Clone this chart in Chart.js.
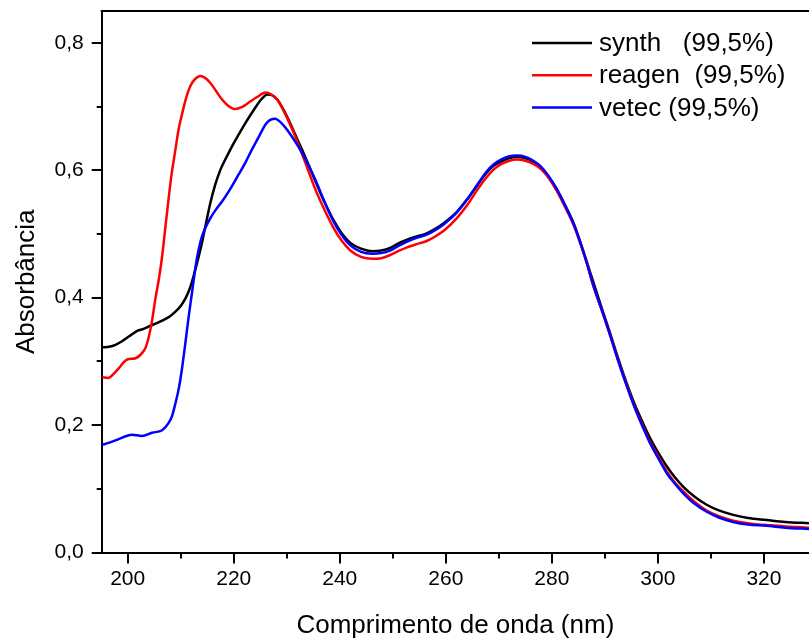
<!DOCTYPE html>
<html>
<head>
<meta charset="utf-8">
<script src="https://cdn.jsdelivr.net/npm/chart.js@4.4.0/dist/chart.umd.min.js"></script>
<style>
    html, body { margin: 0; padding: 0; background: #fff; }
    #wrap { width: 809px; height: 639px; }
</style>
</head>
<body>
<div id="wrap"><canvas id="uvChart" width="809" height="639"></canvas></div>
<script>
// wavelength (nm) / absorbance
const synthNm = [195.2, 196.5, 197.7, 199, 200.2, 201.8, 203, 204.3, 205.5, 206.5, 208, 209, 210, 210.9, 211.7, 212.4, 213.2, 214, 214.8, 215.6, 216.5, 217.5, 218.6, 219.7, 221, 222.2, 223.5, 224.7, 225.5, 226.3, 227.2, 228.2, 229.2, 230.3, 231.6, 232.9, 234.2, 235.5, 237, 238.8, 240.3, 242, 244, 246.1, 247.8, 249.5, 251, 252.7, 254.5, 256.4, 258, 259.6, 262, 264, 266, 267.7, 269, 270.5, 272, 273.4, 275, 276.5, 277.8, 279.3, 280.9, 282.5, 284.1, 285.3, 286.6, 287.8, 289.4, 291, 292.5, 294.1, 295.6, 297.2, 298.5, 300.4, 301.7, 303.2, 304.8, 307, 309.2, 311.5, 314.2, 317, 320.5, 324, 328.5];
const synthAbs = [0.322, 0.323, 0.326, 0.332, 0.339, 0.348, 0.351, 0.356, 0.360, 0.364, 0.371, 0.378, 0.387, 0.399, 0.414, 0.433, 0.458, 0.486, 0.518, 0.549, 0.577, 0.601, 0.620, 0.638, 0.657, 0.674, 0.691, 0.706, 0.714, 0.719, 0.718, 0.711, 0.698, 0.680, 0.656, 0.632, 0.607, 0.581, 0.552, 0.522, 0.502, 0.486, 0.477, 0.473, 0.474, 0.478, 0.485, 0.491, 0.496, 0.501, 0.508, 0.517, 0.534, 0.554, 0.577, 0.596, 0.607, 0.614, 0.619, 0.621, 0.619, 0.613, 0.606, 0.591, 0.570, 0.545, 0.517, 0.489, 0.456, 0.425, 0.384, 0.344, 0.305, 0.266, 0.233, 0.203, 0.180, 0.152, 0.135, 0.118, 0.103, 0.087, 0.075, 0.066, 0.059, 0.054, 0.051, 0.048, 0.046];

const reagenNm = [195.2, 196.4, 197.3, 198.3, 199.2, 199.9, 201.5, 202.7, 203.4, 204, 204.6, 205.2, 205.9, 206.5, 207.1, 207.7, 208.3, 209, 209.6, 210.3, 211, 211.8, 212.7, 213.7, 214.6, 215.6, 216.7, 217.8, 219, 220.3, 221.5, 222.8, 224.4, 226, 227.1, 228.2, 229.9, 231.6, 233.5, 235.4, 237, 238.8, 240.3, 242, 244, 246.1, 247.8, 249.5, 251, 252.7, 254.5, 256.4, 258, 259.6, 262, 264, 266, 267.7, 269, 270.5, 272, 273.4, 275, 276.5, 277.8, 279.3, 280.9, 282.5, 284.1, 285.3, 286.6, 287.8, 289.4, 291, 292.5, 294.1, 295.6, 297.2, 298.5, 300.4, 301.7, 303.2, 304.8, 307, 309.2, 311.5, 314.2, 317, 320.5, 324, 328.5];
const reagenAbs = [0.275, 0.274, 0.280, 0.289, 0.298, 0.303, 0.305, 0.313, 0.322, 0.339, 0.364, 0.397, 0.430, 0.465, 0.510, 0.554, 0.595, 0.632, 0.664, 0.690, 0.713, 0.732, 0.743, 0.748, 0.745, 0.737, 0.724, 0.711, 0.701, 0.696, 0.699, 0.706, 0.715, 0.722, 0.719, 0.711, 0.685, 0.653, 0.612, 0.570, 0.540, 0.510, 0.490, 0.474, 0.464, 0.461, 0.462, 0.467, 0.473, 0.479, 0.484, 0.489, 0.496, 0.505, 0.524, 0.545, 0.570, 0.589, 0.601, 0.610, 0.615, 0.617, 0.615, 0.610, 0.603, 0.589, 0.568, 0.542, 0.514, 0.487, 0.455, 0.419, 0.381, 0.341, 0.302, 0.263, 0.229, 0.198, 0.174, 0.146, 0.127, 0.110, 0.096, 0.079, 0.066, 0.057, 0.050, 0.046, 0.043, 0.041, 0.039];

const vetecNm = [195.2, 196.4, 198.3, 200.8, 202.7, 204.6, 206.5, 207.7, 208.4, 209, 209.7, 210.3, 210.9, 211.5, 212.2, 212.8, 213.4, 214, 214.8, 215.6, 216.7, 217.8, 219.3, 220.9, 222.2, 223.4, 224.7, 226, 226.9, 227.8, 229, 230.3, 231.6, 232.9, 234.2, 235.4, 237, 238.8, 240.3, 242, 244, 246.1, 247.8, 249.5, 251, 252.7, 254.5, 256.4, 258, 259.6, 262, 264, 266, 267.7, 269, 270.5, 272, 273.4, 275, 276.5, 277.8, 279.3, 280.9, 282.5, 284.1, 285.3, 286.6, 287.8, 289.4, 291, 292.5, 294.1, 295.6, 297.2, 298.5, 300.4, 301.7, 303.2, 304.8, 307, 309.2, 311.5, 314.2, 317, 320.5, 324, 328.5];
const vetecAbs = [0.169, 0.172, 0.178, 0.185, 0.183, 0.188, 0.192, 0.203, 0.215, 0.234, 0.260, 0.292, 0.330, 0.370, 0.412, 0.449, 0.476, 0.496, 0.512, 0.525, 0.539, 0.551, 0.570, 0.593, 0.612, 0.632, 0.652, 0.672, 0.679, 0.681, 0.674, 0.661, 0.645, 0.627, 0.606, 0.585, 0.553, 0.520, 0.499, 0.482, 0.472, 0.469, 0.470, 0.474, 0.481, 0.488, 0.494, 0.499, 0.506, 0.515, 0.533, 0.554, 0.578, 0.598, 0.609, 0.617, 0.622, 0.623, 0.621, 0.615, 0.607, 0.592, 0.571, 0.545, 0.516, 0.488, 0.454, 0.420, 0.381, 0.341, 0.301, 0.262, 0.228, 0.196, 0.172, 0.143, 0.124, 0.108, 0.093, 0.076, 0.064, 0.055, 0.048, 0.044, 0.042, 0.039, 0.037];

const seriesLabels = ['synth   (99,5%)', 'reagen  (99,5%)', 'vetec (99,5%)'];
const seriesColors = ['#000000', '#ff0000', '#0000ff'];

const FONT = '"Liberation Sans", Arial, sans-serif';

function toPoints(xs, ys) {
    return xs.map((x, i) => ({ x: x, y: ys[i] }));
}

function isStep(v, step) {
    return Math.abs(v / step - Math.round(v / step)) < 1e-6;
}

// ticks at every multiple of step inside the axis range
function stepTicks(scale, step) {
    const out = [];
    for (let k = Math.ceil(scale.min / step - 1e-9); k * step <= scale.max + 1e-9; k++) {
        out.push({ value: +(k * step).toFixed(6) });
    }
    scale.ticks = out;
}

// frame, outward major/minor tick marks and the legend
const framePlugin = {
    id: 'frame',
    afterDraw(chart) {
        const ctx = chart.ctx;
        const area = chart.chartArea;
        const xs = chart.scales.x;
        const ys = chart.scales.y;
        ctx.save();
        ctx.strokeStyle = '#000';
        ctx.lineWidth = 2;
        ctx.beginPath();
        ctx.moveTo(area.left - 1, area.top);
        ctx.lineTo(area.right, area.top);
        ctx.stroke();

        ctx.beginPath();
        xs.ticks.forEach(t => {
            const px = Math.round(xs.getPixelForValue(t.value));
            const len = isStep(t.value, 20) ? 11 : 6;
            ctx.moveTo(px, area.bottom);
            ctx.lineTo(px, area.bottom + len);
        });
        ys.ticks.forEach(t => {
            const py = Math.round(ys.getPixelForValue(t.value));
            const len = isStep(t.value, 0.2) ? 10 : 5;
            ctx.moveTo(area.left, py);
            ctx.lineTo(area.left - len, py);
        });
        ctx.stroke();

        // legend
        const top = 43;
        const gap = 32.3;
        ctx.font = '26px ' + FONT;
        ctx.textBaseline = 'middle';
        ctx.fillStyle = '#000';
        seriesLabels.forEach((lab, i) => {
            const y = top + i * gap;
            ctx.strokeStyle = seriesColors[i];
            ctx.lineWidth = 2.5;
            ctx.beginPath();
            ctx.moveTo(532, y);
            ctx.lineTo(592, y);
            ctx.stroke();
            ctx.fillText(lab, 599, y + 1);
        });
        ctx.restore();
    }
};

const ctx = document.getElementById('uvChart').getContext('2d');
new Chart(ctx, {
    type: 'scatter',
    data: {
        datasets: [
            { label: seriesLabels[0], data: toPoints(synthNm, synthAbs), borderColor: seriesColors[0], order: 3 },
            { label: seriesLabels[1], data: toPoints(reagenNm, reagenAbs), borderColor: seriesColors[1], order: 2 },
            { label: seriesLabels[2], data: toPoints(vetecNm, vetecAbs), borderColor: seriesColors[2], order: 1 }
        ].map(d => Object.assign(d, {
            showLine: true,
            borderWidth: 2.5,
            pointRadius: 0,
            cubicInterpolationMode: 'monotone',
            fill: false
        }))
    },
    options: {
        responsive: false,
        animation: false,
        layout: { padding: { top: 11, right: 0, left: 0, bottom: 0 } },
        plugins: { legend: { display: false }, tooltip: { enabled: false } },
        scales: {
            x: {
                type: 'linear',
                min: 195.1,
                max: 328.5,
                afterBuildTicks: s => stepTicks(s, 10),
                afterFit: s => { s.height = 86.5; s.paddingLeft = 0; s.paddingRight = 0; },
                ticks: {
                    stepSize: 10,
                    autoSkip: false,
                    maxRotation: 0,
                    color: '#000',
                    padding: 14,
                    font: { family: FONT, size: 21 },
                    callback: v => isStep(v, 20) ? String(Math.round(v)) : ''
                },
                grid: { display: true, drawOnChartArea: false, drawTicks: false },
                border: { display: true, color: '#000', width: 2 },
                title: {
                    display: true,
                    text: 'Comprimento de onda (nm)',
                    color: '#000',
                    padding: 0,
                    font: { family: FONT, size: 26, lineHeight: 1 }
                }
            },
            y: {
                min: 0,
                max: 0.85,
                afterBuildTicks: s => stepTicks(s, 0.1),
                afterFit: s => { s.width = 101.7; s.paddingTop = 0; s.paddingBottom = 0; },
                ticks: {
                    stepSize: 0.1,
                    autoSkip: false,
                    color: '#000',
                    padding: 18,
                    font: { family: FONT, size: 21 },
                    callback: v => isStep(v, 0.2) ? v.toFixed(1).replace('.', ',') : ''
                },
                grid: { display: true, drawOnChartArea: false, drawTicks: false },
                border: { display: true, color: '#000', width: 2 },
                title: {
                    display: true,
                    text: 'Absorbância',
                    color: '#000',
                    padding: { top: 14, bottom: 0 },
                    font: { family: FONT, size: 26, lineHeight: 1 }
                }
            }
        }
    },
    plugins: [framePlugin]
});
</script>
</body>
</html>
